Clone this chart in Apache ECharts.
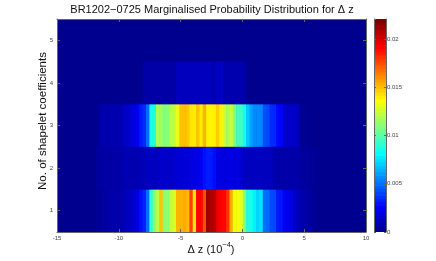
<!DOCTYPE html>
<html>
<head>
<meta charset="utf-8">
<script src="https://cdn.jsdelivr.net/npm/echarts@6/dist/echarts.min.js"></script>
<style>
html,body{margin:0;padding:0;background:#fff;}
#c{width:436px;height:261px;}
</style>
</head>
<body>
<div id="c"></div>
<script>
// ---- data ----
const rowLabels = ['1', '2', '3', '4', '5'];
const xTickLabels = [-15, -10, -5, 0, 5, 10];
const cbarTicks = [0, 0.005, 0.01, 0.015, 0.02];
const binStart = -11.85;   // left edge of first Δz bin (1e-4)
const binWidth = 0.27;     // Δz bin width (1e-4)
const valueMax = 0.0221;

const row1 = [0.0002,0.0002,0.0004,0.0005,0.0005,0.0006,0.0005,0.0006,0.0009,0.0010,
  0.0012,0.0015,0.0018,0.0028,0.0032,0.0049,0.0090,0.0110,0.0122,0.0150,
  0.0110,0.0112,0.0124,0.0128,0.0153,0.0153,0.0155,0.0152,0.0179,0.0142,
  0.0193,0.0193,0.0175,0.0214,0.0210,0.0209,0.0197,0.0193,0.0192,0.0182,
  0.0155,0.0135,0.0134,0.0132,0.0110,0.0088,0.0085,0.0078,0.0072,0.0075,
  0.0049,0.0048,0.0041,0.0040,0.0030,0.0029,0.0022,0.0020,0.0019,0.0012,
  0.0011,0.0008,0.0006,0.0005,0.0003,0.0001];
const row2 = [0.0003,0.0003,0.0005,0.0005,0.0004,0.0005,0.0005,0.0006,0.0008,0.0008,
  0.0007,0.0008,0.0008,0.0009,0.0008,0.0011,0.0011,0.0010,0.0011,0.0013,
  0.0013,0.0012,0.0013,0.0013,0.0015,0.0015,0.0016,0.0015,0.0018,0.0018,
  0.0019,0.0021,0.0028,0.0031,0.0030,0.0027,0.0018,0.0018,0.0017,0.0018,
  0.0018,0.0017,0.0018,0.0015,0.0011,0.0011,0.0010,0.0011,0.0011,0.0011,
  0.0010,0.0011,0.0011,0.0006,0.0006,0.0006,0.0005,0.0006,0.0006,0.0005,
  0.0006,0.0003,0.0003,0.0003,0.0002,0.0002];
const row3 = [0.0001,0.0006,0.0007,0.0006,0.0008,0.0007,0.0008,0.0007,0.0012,0.0012,
  0.0016,0.0017,0.0022,0.0030,0.0034,0.0048,0.0085,0.0088,0.0118,0.0116,
  0.0110,0.0111,0.0121,0.0123,0.0132,0.0150,0.0151,0.0149,0.0142,0.0141,
  0.0150,0.0141,0.0153,0.0139,0.0139,0.0140,0.0147,0.0139,0.0125,0.0118,
  0.0125,0.0110,0.0096,0.0094,0.0084,0.0069,0.0060,0.0055,0.0055,0.0054,
  0.0042,0.0041,0.0034,0.0033,0.0026,0.0025,0.0015,0.0013,0.0012,0.0012,
  0.0011,0.0001,0.0001,0,0,0];
const row4 = [0,0,0,0,0,0,0,0,0,0,
  0,0,0,0,0.0005,0.0005,0.0005,0.0005,0.0005,0.0005,
  0.0005,0.0005,0.0005,0.0005,0.0010,0.0010,0.0010,0.0010,0.0010,0.0010,
  0.0010,0.0010,0.0010,0.0010,0.0010,0.0006,0.0012,0.0012,0.0007,0.0007,
  0.0007,0.0007,0.0007,0.0007,0.0006,0,0,0,0,0,
  0,0,0,0,0,0,0,0,0,0,
  0,0,0,0,0,0];
const rows = [row1, row2, row3, row4];

// ---- MATLAB jet(64) colormap ----
function jetMap(m) {
  const n = Math.ceil(m / 4);
  const u = [];
  for (let k = 1; k <= n; k++) u.push(k / n);
  for (let k = 0; k < n - 1; k++) u.push(1);
  for (let k = n; k >= 1; k--) u.push(k / n);
  const R = new Array(m).fill(0), G = new Array(m).fill(0), B = new Array(m).fill(0);
  const g0 = Math.ceil(n / 2) - (m % 4 === 1 ? 1 : 0) - 1;
  for (let j = 0; j < u.length; j++) {
    const g = g0 + 1 + j, r = g + n, b = g - n;
    if (g >= 0 && g < m) G[g] = u[j];
    if (r >= 0 && r < m) R[r] = u[j];
    if (b >= 0 && b < m) B[b] = u[j];
  }
  const hx = v => ('0' + Math.round(v * 255).toString(16)).slice(-2);
  return R.map((r, i) => '#' + hx(r) + hx(G[i]) + hx(B[i]));
}
const jet = jetMap(64);

const cells = [];
rows.forEach((vals, ri) => {
  vals.forEach((v, k) => {
    const x0 = binStart + k * binWidth;
    cells.push([x0, x0 + binWidth, ri, v]);
  });
});
const cbarLevels = jet.map((c, i) => [i]);

const font = 'Liberation Sans, Arial, Helvetica, sans-serif';
const axisCol = '#666';
const lblCol = '#444';
const line = {show: true, onZero: false, lineStyle: {color: axisCol, width: 1}};

// x-axis label pieces (with superscript exponent)
const xl1 = '\u0394 z (10', xlSup = '\u22124', xl3 = ')';
const mctx = document.createElement('canvas').getContext('2d');
function tw(s, size) { mctx.font = size + 'px ' + font; return mctx.measureText(s).width; }
const w1 = tw(xl1, 11), w2 = tw(xlSup, 7.5), w3 = tw(xl3, 11);
const xlStart = 211 - (w1 + w2 + w3) / 2;

const chart = echarts.init(document.getElementById('c'), null, {renderer: 'canvas'});
chart.setOption({
  animation: false,
  backgroundColor: '#fff',
  grid: [
    {left: 57, top: 19, width: 309, height: 213, show: true, backgroundColor: jet[0], borderWidth: 0},
    {left: 374, top: 19, width: 12, height: 213}
  ],
  xAxis: [
    {gridIndex: 0, type: 'value', min: -15, max: 10, interval: 5, position: 'bottom', z: 10,
      axisLine: line,
      axisTick: {show: true, inside: true, length: 3, lineStyle: {color: axisCol}},
      axisLabel: {show: true, fontSize: 6, color: lblCol, fontFamily: font, margin: 3},
      splitLine: {show: false}},
    {gridIndex: 0, type: 'value', min: -15, max: 10, interval: 5, position: 'top', z: 10,
      axisLine: line,
      axisTick: {show: true, inside: true, length: 3, lineStyle: {color: axisCol}},
      axisLabel: {show: false}, splitLine: {show: false}},
    {gridIndex: 1, type: 'value', min: 0, max: 1, show: false, axisLine: {onZero: false}}
  ],
  yAxis: [
    {gridIndex: 0, type: 'category', data: rowLabels, boundaryGap: true, position: 'left', z: 10,
      axisLine: line,
      axisTick: {show: true, inside: true, length: 3, alignWithLabel: true, lineStyle: {color: axisCol}},
      axisLabel: {show: true, fontSize: 6, color: lblCol, fontFamily: font, margin: 4},
      splitLine: {show: false}},
    {gridIndex: 0, type: 'category', data: rowLabels, boundaryGap: true, position: 'right', z: 10,
      axisLine: line,
      axisTick: {show: true, inside: true, length: 3, alignWithLabel: true, lineStyle: {color: axisCol}},
      axisLabel: {show: false}, splitLine: {show: false}},
    {gridIndex: 1, type: 'value', min: 0, max: valueMax, interval: 0.005, position: 'left', z: 10,
      axisLine: line,
      axisTick: {show: true, inside: true, length: 2, lineStyle: {color: axisCol}},
      axisLabel: {show: false}, splitLine: {show: false}},
    {gridIndex: 1, type: 'value', min: 0, max: valueMax, interval: 0.005, position: 'right', z: 10,
      axisLine: line,
      axisTick: {show: true, inside: true, length: 2, lineStyle: {color: axisCol}},
      axisLabel: {show: true, fontSize: 6, color: lblCol, fontFamily: font, margin: 1, showMaxLabel: false,
        formatter: v => (cbarTicks.indexOf(+v.toFixed(4)) >= 0 ? String(+v.toFixed(4)) : '')},
      splitLine: {show: false}}
  ],
  visualMap: {
    type: 'continuous', show: false, seriesIndex: 0, dimension: 3,
    min: 0, max: valueMax, inRange: {color: jet}
  },
  series: [
    {
      type: 'custom', xAxisIndex: 0, yAxisIndex: 0, clip: true,
      encode: {x: [0, 1], y: 2},
      data: cells,
      renderItem: (params, api) => {
        const p0 = api.coord([api.value(0), api.value(2)]);
        const p1 = api.coord([api.value(1), api.value(2)]);
        const h = api.size([0, 1])[1];
        const col = api.visual('color');
        return {type: 'rect',
          shape: {x: p0[0], y: p0[1] - h / 2, width: p1[0] - p0[0] + 0.6, height: h},
          style: {fill: col}};
      }
    },
    {
      type: 'custom', xAxisIndex: 2, yAxisIndex: 2, clip: true,
      data: cbarLevels,
      renderItem: (params, api) => {
        const i = api.value(0);
        const a = api.coord([0, i * valueMax / 64]);
        const b = api.coord([1, (i + 1) * valueMax / 64]);
        return {type: 'rect',
          shape: {x: a[0], y: b[1] - 0.3, width: b[0] - a[0], height: a[1] - b[1] + 0.6},
          style: {fill: jet[i]}};
      }
    }
  ],
  graphic: [
    {type: 'text', x: 212, y: 10, z: 20,
      style: {text: 'BR1202\u22120725 Marginalised Probability Distribution for \u0394 z',
        font: '11px ' + font, fill: '#111', textAlign: 'center', textVerticalAlign: 'middle'}},
    {type: 'text', x: 43, y: 121, rotation: Math.PI / 2, z: 20,
      style: {text: 'No. of shapelet coefficients', font: '11.5px ' + font, fill: '#111',
        textAlign: 'center', textVerticalAlign: 'middle'}},
    {type: 'text', x: xlStart, y: 249.5, z: 20,
      style: {text: xl1, font: '11px ' + font, fill: '#111', textAlign: 'left', textVerticalAlign: 'middle'}},
    {type: 'text', x: xlStart + w1, y: 244.5, z: 20,
      style: {text: xlSup, font: '7.5px ' + font, fill: '#111', textAlign: 'left', textVerticalAlign: 'middle'}},
    {type: 'text', x: xlStart + w1 + w2, y: 249.5, z: 20,
      style: {text: xl3, font: '11px ' + font, fill: '#111', textAlign: 'left', textVerticalAlign: 'middle'}}
  ]
});
</script>
</body>
</html>
